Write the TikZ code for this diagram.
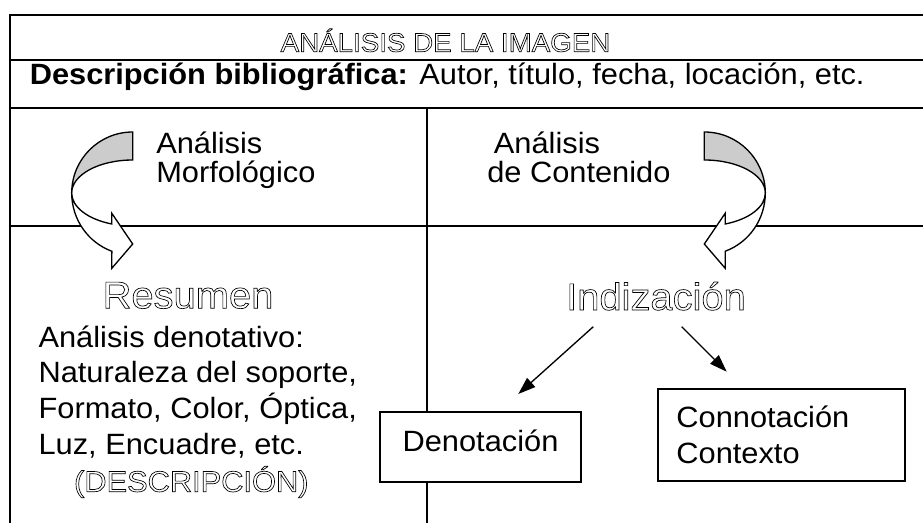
\documentclass[tikz,border=0pt]{standalone}
\usepackage{fontspec}
\setmainfont{Liberation Sans}[FakeStretch=1.05]
\usetikzlibrary{arrows.meta}
\newcommand\outl[1]{\special{pdf:literal 1 Tr 0.5 w}#1\special{pdf:literal 0 Tr}}
\newcommand\topstrut{\rule{0pt}{22pt}}
\tikzset{
  frame/.style={line width=1.5pt},
  divider/.style={line width=1.2pt},
  txt/.style={inner sep=0pt, align=left},
  upper/.style={font={\fontsize{22}{22}\selectfont}},
  body/.style={font={\fontsize{22}{26.8}\selectfont}},
  titlef/.style={font={\fontsize{19.8}{22}\selectfont}},
  bigf/.style={font={\fontsize{28.5}{30}\selectfont}},
  boxn/.style={draw, line width=1.3pt, fill=white, font={\fontsize{22}{26.7}\selectfont}},
  grayband/.style={draw, line width=1pt, fill=gray!40},
  whiteband/.style={draw, line width=1pt, fill=white, line join=miter},
  arr/.style={line width=1pt, -{Triangle[length=13pt,width=9pt]}},
}
\begin{document}
\begin{tikzpicture}[x=0.75pt, y=-0.75pt]
\useasboundingbox (0,0) rectangle (923,523);
% frame
\draw[frame] (923,15) -- (10,15) -- (10,523);
\draw[frame] (10,60) -- (923,60);
\draw[frame] (10,108) -- (923,108);
\draw[frame] (10,226) -- (923,226);
\draw[divider] (426.7,108) -- (426.7,523);
% curved 3D arrows
\begin{scope}[shift={(132.7,193)}]
  \filldraw[grayband] (0,-61) arc[start angle=270,end angle=180,x radius=61,y radius=61]
     arc[start angle=180,end angle=270,x radius=61,y radius=33] -- cycle;
  \filldraw[whiteband] (-61,0) arc[start angle=180,end angle=110,x radius=61,y radius=62]
     -- (-20.9,75.3) -- (0,51) -- (-20.9,20.3) -- (-20.9,31)
     arc[start angle=110,end angle=180,x radius=61,y radius=33] -- cycle;
\end{scope}
\begin{scope}[shift={(704.3,193)}, xscale=-1]
  \filldraw[grayband] (0,-61) arc[start angle=270,end angle=180,x radius=61,y radius=61]
     arc[start angle=180,end angle=270,x radius=61,y radius=33] -- cycle;
  \filldraw[whiteband] (-61,0) arc[start angle=180,end angle=110,x radius=61,y radius=62]
     -- (-20.9,75.3) -- (0,51) -- (-20.9,20.3) -- (-20.9,31)
     arc[start angle=110,end angle=180,x radius=61,y radius=33] -- cycle;
\end{scope}
% texts
\node[txt, titlef, anchor=base] (title) at (445.5,51.7) {\outl{ANÁLISIS DE LA IMAGEN}};
\node[txt, body, anchor=base west] (desc) at (29.5,84.3)
  {\textbf{Descripción bibliográfica:} Autor, título, fecha, locación, etc.};
\node[txt, upper, anchor=north west] (morf) at (156,123.7)
  {\topstrut Análisis\\Morfológico};
\node[txt, upper, anchor=north west] (cont) at (487,123.7)
  {\topstrut\hspace*{5pt}Análisis\\de Contenido};
\node[txt, bigf, anchor=base] (resumen) at (188,308.3) {\outl{Resumen}};
\node[txt, body, anchor=north west] (denot) at (38.3,317.4)
  {\topstrut Análisis denotativo:\\Naturaleza del soporte,\\Formato, Color, Óptica,\\Luz, Encuadre, etc.};
\node[txt, body, anchor=base] (descr) at (191.3,491.7) {\outl{(DESCRIPCIÓN)}};
\node[txt, bigf, anchor=base] (indiz) at (656,310) {\outl{Indización}};
% boxes
\node[boxn, minimum width=150.75pt, minimum height=52.5pt, inner sep=0pt,
      text height=17pt, text depth=11pt] (deno) at (480.5,447) {Denotación};
\node[boxn, minimum height=69pt, inner xsep=14pt, inner ysep=0pt,
      text width=157.5pt, align=left] (conno) at (781.4,435)
  {\rule{0pt}{20pt}Connotación\\Contexto\rule[-4.3pt]{0pt}{4.3pt}};
% connectors
\coordinate (l1) at (593.3,326.7);
\coordinate (l2) at (518.3,394);
\coordinate (r1) at (681.7,326.7);
\coordinate (r2) at (726.7,371.7);
\draw[arr] (l1) -- (l2);
\draw[arr] (r1) -- (r2);
\end{tikzpicture}
\end{document}
